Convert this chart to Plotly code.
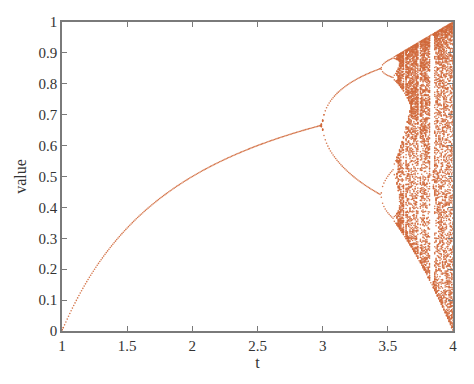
import numpy as np
import plotly.graph_objects as go

# Parameter grid of the logistic map x -> t*x*(1-x) shown on the x axis
t_start = 1.0
t_stop = 4.0
t_step = 0.01
n_transient = 200
n_keep = 180
x0 = 0.2

x_ticks = [1, 1.5, 2, 2.5, 3, 3.5, 4]
x_tick_labels = ["1", "1.5", "2", "2.5", "3", "3.5", "4"]
y_ticks = [0, 0.1, 0.2, 0.3, 0.4, 0.5, 0.6, 0.7, 0.8, 0.9, 1]
y_tick_labels = ["0", "0.1", "0.2", "0.3", "0.4", "0.5", "0.6", "0.7", "0.8", "0.9", "1"]

t_vals = np.arange(t_start, t_stop + t_step / 2, t_step)
xs = np.full_like(t_vals, x0)
for _ in range(n_transient):
    xs = t_vals * xs * (1 - xs)
pts_t, pts_v = [], []
for _ in range(n_keep):
    xs = t_vals * xs * (1 - xs)
    pts_t.append(t_vals.copy())
    pts_v.append(xs.copy())
T = np.concatenate(pts_t)
V = np.concatenate(pts_v)
key = np.round(T, 4) * 10000 + np.round(V, 3)
_, idx = np.unique(key, return_index=True)
T = T[idx]
V = V[idx]

fig = go.Figure(go.Scatter(
    x=T, y=V, mode="markers",
    marker=dict(size=1.6, color="#d0683a", opacity=0.9, line=dict(width=0)),
    hoverinfo="skip",
))

font_family = "Liberation Serif, Times New Roman, serif"
axis_common = dict(
    showline=True, linecolor="#7a7a7a", linewidth=1.5, mirror="ticks",
    ticks="inside", ticklen=5, tickwidth=1, tickcolor="#7a7a7a",
    showgrid=False, zeroline=False,
    tickfont=dict(family=font_family, size=15, color="#333333"),
)
fig.update_layout(
    width=474, height=384,
    margin=dict(l=62, r=21, t=22, b=53),
    paper_bgcolor="white", plot_bgcolor="white",
    font=dict(family=font_family, size=15, color="#333333"),
    showlegend=False,
    xaxis=dict(range=[1, 4], tickvals=x_ticks, ticktext=x_tick_labels,
               title=dict(text="t", font=dict(family=font_family, size=16, color="#333333"), standoff=4),
               **axis_common),
    yaxis=dict(range=[0, 1], tickvals=y_ticks, ticktext=y_tick_labels,
               title=dict(text="value", font=dict(family=font_family, size=16, color="#333333"), standoff=8),
               **axis_common),
)
fig.write_html("out.html")
